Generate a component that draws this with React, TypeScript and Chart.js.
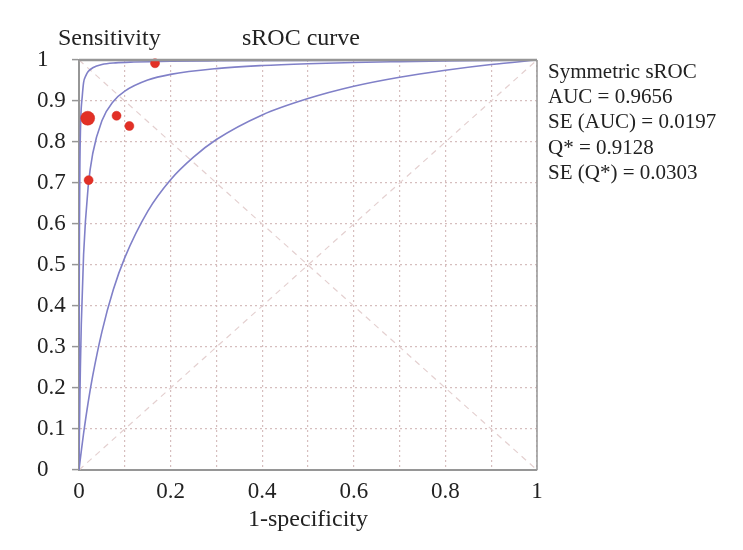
import { useEffect, useRef } from 'react';
import { Chart, registerables } from 'chart.js';
Chart.register(...registerables);

const FONT = '"Liberation Serif", "DejaVu Serif", serif';

// Study points (1-specificity, sensitivity) and relative weights
const studyFpr = [0.019, 0.082, 0.11, 0.166, 0.021];
const studyTpr = [0.858, 0.864, 0.839, 0.992, 0.707];
const studyWeight = [2.4, 1, 1, 1, 1];

// Symmetric sROC curve
const srocFpr = [0, 0.001, 0.002, 0.003, 0.005, 0.01, 0.02, 0.03, 0.05, 0.075, 0.1, 0.15, 0.2, 0.3, 0.4, 0.5, 0.6, 0.7, 0.8, 0.9, 1];
const srocTpr = [0, 0.099, 0.18, 0.248, 0.355, 0.525, 0.691, 0.772, 0.852, 0.899, 0.924, 0.951, 0.965, 0.979, 0.9865, 0.991, 0.994, 0.996, 0.9977, 0.999, 1];

// Upper bound curve
const upperFpr = [0, 0.0002, 0.0005, 0.001, 0.002, 0.004, 0.007, 0.01, 0.015, 0.02, 0.03, 0.05, 0.08, 0.12, 0.2, 0.3, 0.5, 0.7, 1];
const upperTpr = [0, 0.2, 0.42, 0.6, 0.75, 0.86, 0.91, 0.945, 0.962, 0.972, 0.981, 0.989, 0.993, 0.995, 0.997, 0.998, 0.999, 0.9995, 1];

// Lower bound curve
const lowerFpr = [0, 0.002, 0.005, 0.01, 0.02, 0.03, 0.05, 0.075, 0.1, 0.15, 0.2, 0.25, 0.3, 0.4, 0.5, 0.6, 0.7, 0.8, 0.9, 1];
const lowerTpr = [0, 0.019, 0.046, 0.089, 0.165, 0.23, 0.337, 0.44, 0.518, 0.631, 0.708, 0.763, 0.806, 0.866, 0.906, 0.936, 0.958, 0.975, 0.989, 1];

// Reference diagonals
const diagDownX = [0, 1];
const diagDownY = [1, 0];
const diagUpX = [0, 1];
const diagUpY = [0, 1];

const yTickLabels = ['0', '0.1', '0.2', '0.3', '0.4', '0.5', '0.6', '0.7', '0.8', '0.9', '1'];
const xTickLabels = ['0', '', '0.2', '', '0.4', '', '0.6', '', '0.8', '', '1'];

const titleText = 'sROC curve';
const yTitleText = 'Sensitivity';
const xTitleText = '1-specificity';
const statsLines = ['Symmetric sROC', 'AUC = 0.9656', 'SE (AUC) = 0.0197', 'Q* = 0.9128', 'SE (Q*) = 0.0303'];

const pts = (xs: number[], ys: number[]) => xs.map((x, i) => ({ x, y: ys[i] }));

const CURVE = 'rgb(128,128,200)';
const GRID = 'rgb(214,190,190)';
const AXIS = 'rgb(150,150,150)';
const TEXT = '#222';

export default function App() {
  const ref = useRef<HTMLCanvasElement | null>(null);

  useEffect(() => {
    if (!ref.current) return;
    const extras = {
      id: 'extras',
      afterDraw(chart: any) {
        const { ctx, chartArea } = chart;
        const { left, right, top, bottom } = chartArea;
        ctx.save();
        // frame top & right
        ctx.strokeStyle = AXIS;
        ctx.lineWidth = 2.5;
        ctx.beginPath();
        ctx.moveTo(left, top);
        ctx.lineTo(right, top);
        ctx.stroke();
        ctx.lineWidth = 1.5;
        ctx.beginPath();
        ctx.moveTo(right, top);
        ctx.lineTo(right, bottom);
        ctx.stroke();
        // texts
        ctx.fillStyle = TEXT;
        ctx.textBaseline = 'alphabetic';
        ctx.textAlign = 'left';
        ctx.font = `24px ${FONT}`;
        ctx.fillText(yTitleText, left - 21, top - 15);
        ctx.fillText(titleText, left + 163, top - 15);
        ctx.font = `21px ${FONT}`;
        statsLines.forEach((s, i) => {
          ctx.fillText(s, right + 11, top + 18 + i * 25.2);
        });
        ctx.restore();
      },
    };

    const chart = new Chart(ref.current, {
      type: 'scatter',
      data: {
        datasets: [
          {
            label: 'Studies',
            data: pts(studyFpr, studyTpr),
            backgroundColor: 'rgb(226,48,38)',
            borderColor: 'rgb(210,40,30)',
            borderWidth: 0.5,
            pointRadius: studyWeight.map((w) => 4.5 * Math.sqrt(w)),
            showLine: false,
            clip: false,
            order: 0,
          } as any,
          {
            label: 'sROC',
            data: pts(srocFpr, srocTpr),
            showLine: true,
            borderColor: CURVE,
            borderWidth: 1.6,
            pointRadius: 0,
            cubicInterpolationMode: 'monotone',
            order: 1,
          },
          {
            label: 'upper',
            data: pts(upperFpr, upperTpr),
            showLine: true,
            borderColor: CURVE,
            borderWidth: 1.6,
            pointRadius: 0,
            cubicInterpolationMode: 'monotone',
            order: 1,
          },
          {
            label: 'lower',
            data: pts(lowerFpr, lowerTpr),
            showLine: true,
            borderColor: CURVE,
            borderWidth: 1.6,
            pointRadius: 0,
            cubicInterpolationMode: 'monotone',
            order: 1,
          },
          {
            label: 'diag1',
            data: pts(diagDownX, diagDownY),
            showLine: true,
            borderColor: 'rgb(228,208,208)',
            borderWidth: 1.2,
            borderDash: [6, 5],
            pointRadius: 0,
            order: 2,
          },
          {
            label: 'diag2',
            data: pts(diagUpX, diagUpY),
            showLine: true,
            borderColor: 'rgb(228,208,208)',
            borderWidth: 1.2,
            borderDash: [6, 5],
            pointRadius: 0,
            order: 2,
          },
        ],
      },
      options: {
        animation: false,
        responsive: false,
        maintainAspectRatio: false,
        layout: { padding: { left: 37, right: 206, top: 60, bottom: 0 } },
        plugins: { legend: { display: false }, tooltip: { enabled: false }, title: { display: false } },
        scales: {
          x: {
            type: 'linear',
            min: 0,
            max: 1,
            afterFit: (s: any) => {
              s.height = 80;
            },
            ticks: {
              stepSize: 0.1,
              autoSkip: false,
              maxRotation: 0,
              padding: 8,
              color: TEXT,
              font: { family: FONT, size: 23 },
              callback: (v: any) => xTickLabels[Math.round(Number(v) * 10)],
            },
            grid: { color: GRID, lineWidth: 1.2, drawTicks: false },
            border: { display: true, color: AXIS, width: 2, dash: [2, 3] },
            title: {
              display: true,
              text: xTitleText,
              color: TEXT,
              font: { family: FONT, size: 24 },
              padding: { top: 0, bottom: 16 },
            },
          },
          y: {
            type: 'linear',
            min: 0,
            max: 1,
            afterFit: (s: any) => {
              s.width = 42;
            },
            ticks: {
              stepSize: 0.1,
              autoSkip: false,
              crossAlign: 'far',
              padding: 5,
              color: TEXT,
              font: { family: FONT, size: 23 },
              callback: (v: any) => yTickLabels[Math.round(Number(v) * 10)],
            },
            grid: { color: GRID, lineWidth: 1.2, drawTicks: true, tickLength: 7, tickColor: AXIS, tickWidth: 1.5 },
            border: { display: true, color: AXIS, width: 2, dash: [2, 3] },
          },
        },
      },
      plugins: [extras],
    } as any);
    return () => chart.destroy();
  }, []);

  return (
    <div style={{ position: 'absolute', left: 0, top: 0, width: 743, height: 550, background: '#fff' }}>
      <canvas ref={ref} width={743} height={550} style={{ width: 743, height: 550 }} />
    </div>
  );
}
